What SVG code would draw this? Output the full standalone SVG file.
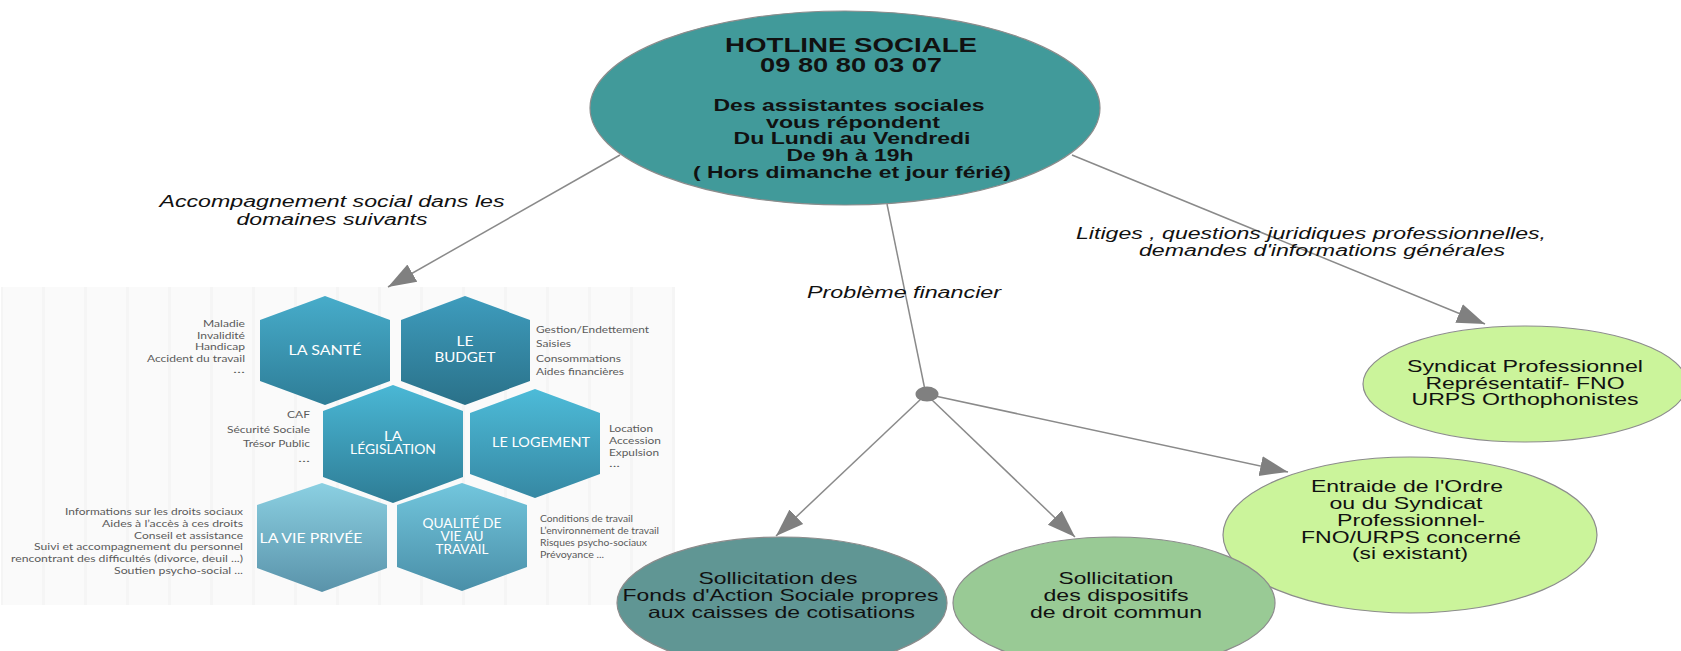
<svg xmlns="http://www.w3.org/2000/svg" width="1681" height="651" viewBox="0 0 1681 651">
<defs>
<style>
.node{stroke:#8c8c8c;stroke-width:1.2}
.nt{font-family:"Liberation Sans",Arial,sans-serif;fill:#111;text-anchor:middle;font-size:16.5px}
.bt{font-family:"Liberation Sans",Arial,sans-serif;fill:#111;text-anchor:middle;font-weight:bold}
.lbl{font-family:"Liberation Sans",Arial,sans-serif;fill:#111;text-anchor:middle;font-style:italic;font-size:16px}
.edge{stroke:#8a8a8a;stroke-width:1.5;fill:none}
.ht{font-family:Lato,"Open Sans",sans-serif;fill:#fff;text-anchor:middle;font-size:12.5px}
.st{font-family:Lato,"Open Sans",sans-serif;fill:#5a5a5a;font-size:9.5px}
.se{text-anchor:end}
</style>
<marker id="arr" markerUnits="userSpaceOnUse" markerWidth="30" markerHeight="22" refX="28" refY="11" orient="auto">
<path d="M0,1 L28,11 L0,21 Z" fill="#808080"/>
</marker>
<linearGradient id="gSante" x1="0" y1="0" x2="0" y2="1"><stop offset="0" stop-color="#47acca"/><stop offset="1" stop-color="#2e7d97"/></linearGradient>
<linearGradient id="gBudget" x1="0" y1="0" x2="0" y2="1"><stop offset="0" stop-color="#3e9cbd"/><stop offset="1" stop-color="#2a7189"/></linearGradient>
<linearGradient id="gLegis" x1="0" y1="0" x2="0" y2="1"><stop offset="0" stop-color="#4ab7d5"/><stop offset="1" stop-color="#2e7c95"/></linearGradient>
<linearGradient id="gLogement" x1="0" y1="0" x2="0" y2="1"><stop offset="0" stop-color="#4dbbd8"/><stop offset="1" stop-color="#3688a3"/></linearGradient>
<linearGradient id="gVie" x1="0" y1="0" x2="0" y2="1"><stop offset="0" stop-color="#8bd0e2"/><stop offset="1" stop-color="#5a93aa"/></linearGradient>
<linearGradient id="gQualite" x1="0" y1="0" x2="0" y2="1"><stop offset="0" stop-color="#72c6dd"/><stop offset="1" stop-color="#4a8fa8"/></linearGradient>
<pattern id="bands" x="0" y="0" width="42" height="64" patternUnits="userSpaceOnUse">
<rect width="42" height="64" fill="#fafafa"/>
<rect x="0" width="3" height="64" fill="#f5f5f5"/>
</pattern>
</defs>
<rect width="1681" height="651" fill="#fff"/>

<g id="hex-panel">
<rect x="1" y="287" width="674" height="318" fill="url(#bands)"/>
<g id="hex-sante">
<polygon points="325,296 390,320 390,381 325,405 260,381 260,320" fill="url(#gSante)"/>
<text class="ht" x="325" y="355" textLength="73" lengthAdjust="spacingAndGlyphs">LA SANTÉ</text>
</g>
<g id="hex-budget">
<polygon points="465,296 530,320 530,381 465,405 401,381 401,320" fill="url(#gBudget)"/>
<text class="ht" x="465" y="346" textLength="17" lengthAdjust="spacingAndGlyphs">LE</text>
<text class="ht" x="465" y="362" textLength="61" lengthAdjust="spacingAndGlyphs">BUDGET</text>
</g>
<g id="hex-legislation">
<polygon points="393,385 463,411 463,477 393,503 323,477 323,411" fill="url(#gLegis)"/>
<text class="ht" x="393" y="441" textLength="18" lengthAdjust="spacingAndGlyphs">LA</text>
<text class="ht" x="393" y="454" textLength="86" lengthAdjust="spacingAndGlyphs">LÉGISLATION</text>
</g>
<g id="hex-logement">
<polygon points="535,389 600,413 600,474 535,498 470,474 470,413" fill="url(#gLogement)"/>
<text class="ht" x="541" y="447" textLength="98" lengthAdjust="spacingAndGlyphs">LE LOGEMENT</text>
</g>
<g id="hex-vie-privee">
<polygon points="322,483 387,505 387,568 322,592 257,568 257,505" fill="url(#gVie)"/>
<text class="ht" x="311" y="543" textLength="103" lengthAdjust="spacingAndGlyphs">LA VIE PRIVÉE</text>
</g>
<g id="hex-qualite">
<polygon points="462,483 527,505 527,567 462,591 397,567 397,505" fill="url(#gQualite)"/>
<text class="ht" x="462" y="528" textLength="79" lengthAdjust="spacingAndGlyphs">QUALITÉ DE</text>
<text class="ht" x="462" y="541" textLength="43" lengthAdjust="spacingAndGlyphs">VIE AU</text>
<text class="ht" x="462" y="554" textLength="53" lengthAdjust="spacingAndGlyphs">TRAVAIL</text>
</g>
<g id="list-sante">
<text class="st se" x="245" y="327" textLength="42" lengthAdjust="spacingAndGlyphs">Maladie</text>
<text class="st se" x="245" y="338.5" textLength="48" lengthAdjust="spacingAndGlyphs">Invalidité</text>
<text class="st se" x="245" y="350" textLength="50" lengthAdjust="spacingAndGlyphs">Handicap</text>
<text class="st se" x="245" y="362" textLength="98" lengthAdjust="spacingAndGlyphs">Accident du travail</text>
<text class="st se" x="245" y="373" textLength="12" lengthAdjust="spacingAndGlyphs">...</text>
</g>
<g id="list-legislation">
<text class="st se" x="310" y="418" textLength="23" lengthAdjust="spacingAndGlyphs">CAF</text>
<text class="st se" x="310" y="433" textLength="83" lengthAdjust="spacingAndGlyphs">Sécurité Sociale</text>
<text class="st se" x="310" y="447" textLength="67" lengthAdjust="spacingAndGlyphs">Trésor Public</text>
<text class="st se" x="310" y="462" textLength="12" lengthAdjust="spacingAndGlyphs">...</text>
</g>
<g id="list-budget">
<text class="st" x="536" y="333" textLength="113" lengthAdjust="spacingAndGlyphs">Gestion/Endettement</text>
<text class="st" x="536" y="347" textLength="35" lengthAdjust="spacingAndGlyphs">Saisies</text>
<text class="st" x="536" y="362" textLength="85" lengthAdjust="spacingAndGlyphs">Consommations</text>
<text class="st" x="536" y="375" textLength="88" lengthAdjust="spacingAndGlyphs">Aides financières</text>
</g>
<g id="list-logement">
<text class="st" x="609" y="432" textLength="44" lengthAdjust="spacingAndGlyphs">Location</text>
<text class="st" x="609" y="444" textLength="52" lengthAdjust="spacingAndGlyphs">Accession</text>
<text class="st" x="609" y="456" textLength="50" lengthAdjust="spacingAndGlyphs">Expulsion</text>
<text class="st" x="609" y="467" textLength="11" lengthAdjust="spacingAndGlyphs">...</text>
</g>
<g id="list-vie-privee">
<text class="st se" x="243" y="515" textLength="178" lengthAdjust="spacingAndGlyphs">Informations sur les droits sociaux</text>
<text class="st se" x="243" y="527" textLength="141" lengthAdjust="spacingAndGlyphs">Aides à l’accès à ces droits</text>
<text class="st se" x="243" y="538.5" textLength="109" lengthAdjust="spacingAndGlyphs">Conseil et assistance</text>
<text class="st se" x="243" y="550" textLength="209" lengthAdjust="spacingAndGlyphs">Suivi et accompagnement du personnel</text>
<text class="st se" x="243" y="562" textLength="232" lengthAdjust="spacingAndGlyphs">rencontrant des difficultés (divorce, deuil ...)</text>
<text class="st se" x="243" y="573.5" textLength="129" lengthAdjust="spacingAndGlyphs">Soutien psycho-social ...</text>
</g>
<g id="list-qualite">
<text class="st" x="540" y="522" textLength="93" lengthAdjust="spacingAndGlyphs">Conditions de travail</text>
<text class="st" x="540" y="534" textLength="119" lengthAdjust="spacingAndGlyphs">L’environnement de travail</text>
<text class="st" x="540" y="546" textLength="107" lengthAdjust="spacingAndGlyphs">Risques psycho-sociaux</text>
<text class="st" x="540" y="558" textLength="64" lengthAdjust="spacingAndGlyphs">Prévoyance ...</text>
</g>
</g>

<g id="node-hotline">
<ellipse class="node" cx="845" cy="108" rx="255" ry="97" fill="#419a9a"/>
<text class="bt" x="851" y="52" font-size="20" textLength="252" lengthAdjust="spacingAndGlyphs">HOTLINE SOCIALE</text>
<text class="bt" x="851" y="72" font-size="20" textLength="182" lengthAdjust="spacingAndGlyphs">09 80 80 03 07</text>
<text class="bt" x="849" y="111" font-size="16.5" textLength="271" lengthAdjust="spacingAndGlyphs">Des assistantes sociales</text>
<text class="bt" x="853" y="127.5" font-size="16.5" textLength="174" lengthAdjust="spacingAndGlyphs">vous répondent</text>
<text class="bt" x="852" y="144" font-size="16.5" textLength="237" lengthAdjust="spacingAndGlyphs">Du Lundi au Vendredi</text>
<text class="bt" x="850" y="161" font-size="16.5" textLength="127" lengthAdjust="spacingAndGlyphs">De 9h à 19h</text>
<text class="bt" x="852" y="177.5" font-size="16.5" textLength="318" lengthAdjust="spacingAndGlyphs">( Hors dimanche et jour férié)</text>
</g>

<g id="node-syndicat">
<ellipse class="node" cx="1525" cy="384" rx="162" ry="58" fill="#cbf49b"/>
<text class="nt" x="1525" y="372" textLength="236" lengthAdjust="spacingAndGlyphs">Syndicat Professionnel</text>
<text class="nt" x="1525" y="388.5" textLength="199" lengthAdjust="spacingAndGlyphs">Représentatif- FNO</text>
<text class="nt" x="1525" y="405" textLength="227" lengthAdjust="spacingAndGlyphs">URPS Orthophonistes</text>
</g>

<g id="node-entraide">
<ellipse class="node" cx="1410" cy="535" rx="187" ry="78" fill="#cbf49b"/>
<text class="nt" x="1407" y="492" textLength="192" lengthAdjust="spacingAndGlyphs">Entraide de l'Ordre</text>
<text class="nt" x="1406" y="509" textLength="153" lengthAdjust="spacingAndGlyphs">ou du Syndicat</text>
<text class="nt" x="1411" y="526" textLength="148" lengthAdjust="spacingAndGlyphs">Professionnel-</text>
<text class="nt" x="1411" y="542.5" textLength="220" lengthAdjust="spacingAndGlyphs">FNO/URPS concerné</text>
<text class="nt" x="1410" y="559" textLength="116" lengthAdjust="spacingAndGlyphs">(si existant)</text>
</g>

<g id="node-fonds">
<ellipse class="node" cx="782" cy="603" rx="165" ry="66" fill="#609694"/>
<text class="nt" x="778" y="584" textLength="159" lengthAdjust="spacingAndGlyphs">Sollicitation des</text>
<text class="nt" x="780.5" y="601" textLength="316" lengthAdjust="spacingAndGlyphs">Fonds d'Action Sociale propres</text>
<text class="nt" x="781.5" y="617.5" textLength="267" lengthAdjust="spacingAndGlyphs">aux caisses de cotisations</text>
</g>

<g id="node-droit-commun">
<ellipse class="node" cx="1114" cy="603" rx="161" ry="66" fill="#99ca95"/>
<text class="nt" x="1116" y="584" textLength="115" lengthAdjust="spacingAndGlyphs">Sollicitation</text>
<text class="nt" x="1116" y="601" textLength="145" lengthAdjust="spacingAndGlyphs">des dispositifs</text>
<text class="nt" x="1116" y="617.5" textLength="172" lengthAdjust="spacingAndGlyphs">de droit commun</text>
</g>

<g id="connectors">
<line class="edge" x1="620" y1="155" x2="388" y2="287" marker-end="url(#arr)"/>
<line class="edge" x1="887" y1="204" x2="925" y2="390"/>
<line class="edge" x1="1072" y1="155" x2="1485" y2="324" marker-end="url(#arr)"/>
<line class="edge" x1="922" y1="398" x2="776" y2="536" marker-end="url(#arr)"/>
<line class="edge" x1="931" y1="399" x2="1075" y2="537" marker-end="url(#arr)"/>
<line class="edge" x1="935" y1="396" x2="1288" y2="472" marker-end="url(#arr)"/>
<text class="lbl" x="332" y="207" textLength="345" lengthAdjust="spacingAndGlyphs">Accompagnement social dans les</text>
<text class="lbl" x="332" y="224.5" textLength="191" lengthAdjust="spacingAndGlyphs">domaines suivants</text>
<text class="lbl" x="904" y="298" textLength="194" lengthAdjust="spacingAndGlyphs">Problème financier</text>
<text class="lbl" x="1311" y="238.5" textLength="470" lengthAdjust="spacingAndGlyphs">Litiges , questions juridiques professionnelles,</text>
<text class="lbl" x="1322" y="255.5" textLength="366" lengthAdjust="spacingAndGlyphs">demandes d'informations générales</text>
</g>

<g id="node-junction">
<ellipse cx="927" cy="394" rx="11.5" ry="7.5" fill="#808080"/>
</g>
</svg>
